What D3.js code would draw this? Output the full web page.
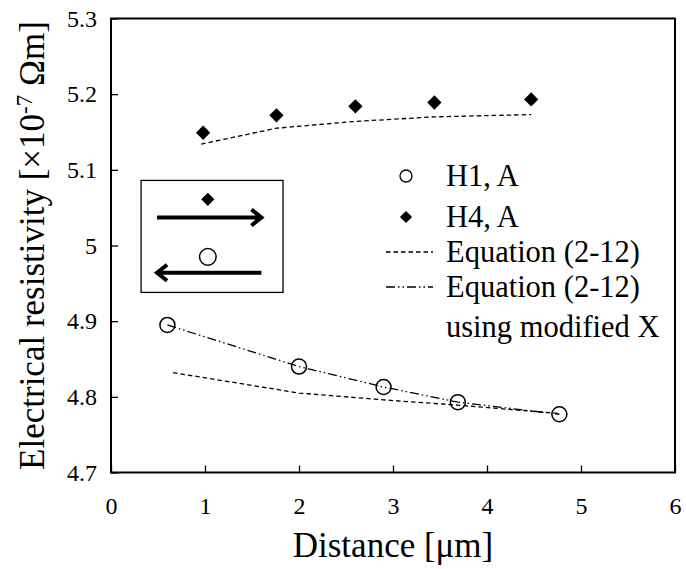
<!DOCTYPE html>
<html><head><meta charset="utf-8">
<script src="https://cdn.jsdelivr.net/npm/d3@7"></script>
<style>body{margin:0;background:#fff} text{font-family:"Liberation Serif","Times New Roman",serif;fill:#000}</style>
</head><body><svg id="c" width="686" height="569"></svg>
<script>
const xTicks=[0,1,2,3,4,5,6];
const yTicks=[4.7,4.8,4.9,5.0,5.1,5.2,5.3];
const h4X=[0.98,1.76,2.60,3.44,4.47];
const h4Y=[5.149,5.172,5.184,5.189,5.193];
const h4EqX=[0.96,1.76,2.60,3.44,4.47];
const h4EqY=[5.134,5.155,5.164,5.170,5.173];
const h1X=[0.60,2.00,2.90,3.69,4.77];
const h1Y=[4.895,4.840,4.813,4.793,4.777];
const h1EqX=[0.66,2.00,2.90,3.69,4.77];
const h1EqY=[4.832,4.805,4.796,4.789,4.778];
const h1ModX=[0.60,2.00,2.90,3.69,4.77];
const h1ModY=[4.895,4.840,4.813,4.793,4.777];
const legendLabels=["H1, A","H4, A","Equation (2-12)","Equation (2-12)","using modified X"];
const xTitle="Distance [\u03bcm]";

const FONT='"Liberation Serif","Times New Roman",serif';
const svg=d3.select("#c");
const L=111,R=675,T=18.5,B=472.5;
const x=d3.scaleLinear().domain([0,6]).range([L,R]);
const y=d3.scaleLinear().domain([4.7,5.3]).range([B,T]);
const DASH="4.5,3", DASHDOT="9,3,1.5,3,1.5,3";

// axes
const gx=svg.append("g").attr("transform",`translate(0,${B})`)
  .call(d3.axisBottom(x).tickValues(xTicks).tickSizeInner(-7).tickSizeOuter(0).tickPadding(24).tickFormat(d3.format("d")));
gx.attr("font-family",FONT);
gx.select(".domain").remove();
gx.selectAll("line").attr("stroke","#000").attr("stroke-width",1.3);
gx.selectAll("text").attr("font-size",24).style("font-family",FONT);
const gy=svg.append("g").attr("transform",`translate(${L},0)`)
  .call(d3.axisLeft(y).tickValues(yTicks).tickSizeInner(-7).tickSizeOuter(0).tickPadding(14).tickFormat(d=>String(+d.toFixed(1))));
gy.attr("font-family",FONT);
gy.select(".domain").remove();
gy.selectAll("line").attr("stroke","#000").attr("stroke-width",1.3);
gy.selectAll("text").attr("font-size",24).style("font-family",FONT);

svg.append("rect").attr("x",L).attr("y",T).attr("width",R-L).attr("height",B-T)
  .attr("fill","none").attr("stroke","#000").attr("stroke-width",2);

// lines
const line=(xs,ys)=>d3.line().x((d,i)=>x(xs[i])).y(d=>y(d))(ys);
svg.append("path").attr("d",line(h4EqX,h4EqY)).attr("fill","none").attr("stroke","#000").attr("stroke-width",1.3).attr("stroke-dasharray",DASH);
svg.append("path").attr("d",line(h1EqX,h1EqY)).attr("fill","none").attr("stroke","#000").attr("stroke-width",1.3).attr("stroke-dasharray",DASH);
svg.append("path").attr("d",line(h1ModX,h1ModY)).attr("fill","none").attr("stroke","#000").attr("stroke-width",1.3).attr("stroke-dasharray",DASHDOT);

// markers
const diamond=d3.symbol().type(d3.symbolDiamond2).size(130);
svg.append("g").selectAll("path").data(h4Y).join("path")
  .attr("d",diamond).attr("transform",(d,i)=>`translate(${x(h4X[i])},${y(d)})`).attr("fill","#000");
svg.append("g").selectAll("circle").data(h1Y).join("circle")
  .attr("cx",(d,i)=>x(h1X[i])).attr("cy",d=>y(d)).attr("r",7.5)
  .attr("fill","none").attr("stroke","#000").attr("stroke-width",1.5);

// inset
const ix0=x(0.32), ix1=x(1.83), iy0=y(5.086), iy1=y(4.938);
svg.append("rect").attr("x",ix0).attr("y",iy0).attr("width",ix1-ix0).attr("height",iy1-iy0)
  .attr("fill","#fff").attr("stroke","#000").attr("stroke-width",1.3);
const cx=x(1.03);
svg.append("path").attr("d",diamond.size(110)()).attr("transform",`translate(${cx},${y(5.061)})`).attr("fill","#000");
svg.append("circle").attr("cx",cx).attr("cy",y(4.985)).attr("r",8.3).attr("fill","none").attr("stroke","#000").attr("stroke-width",1.5);
const a1=y(5.037), a2=y(4.964), ax0=x(0.49), ax1=x(1.6);
svg.append("path").attr("d",`M${ax0},${a1}H${ax1}M${ax1-10},${a1-8}L${ax1},${a1}L${ax1-10},${a1+8}`)
  .attr("fill","none").attr("stroke","#000").attr("stroke-width",4);
svg.append("path").attr("d",`M${ax1},${a2}H${ax0}M${ax0+10},${a2-8}L${ax0},${a2}L${ax0+10},${a2+8}`)
  .attr("fill","none").attr("stroke","#000").attr("stroke-width",4);

// legend
const lg=svg.append("g");
const lx=386, lsx=406, ltx=446;
const rows=[176,217,252,287,327];
lg.append("circle").attr("cx",lsx).attr("cy",rows[0]).attr("r",6).attr("fill","none").attr("stroke","#000").attr("stroke-width",1.3);
lg.append("path").attr("d",d3.symbol().type(d3.symbolDiamond2).size(95)()).attr("transform",`translate(${lsx},${rows[1]})`);
lg.append("line").attr("x1",lx).attr("x2",433).attr("y1",rows[2]).attr("y2",rows[2]).attr("stroke","#000").attr("stroke-width",1.3).attr("stroke-dasharray",DASH);
lg.append("line").attr("x1",lx).attr("x2",433).attr("y1",rows[3]).attr("y2",rows[3]).attr("stroke","#000").attr("stroke-width",1.3).attr("stroke-dasharray",DASHDOT);
legendLabels.forEach((t,i)=>{
  lg.append("text").attr("x",ltx).attr("y",rows[i]).attr("dy","0.33em").attr("font-size",30.5).text(t);
});

// titles
svg.append("text").attr("x",(L+R)/2).attr("y",557).attr("text-anchor","middle").attr("font-size",35).text(xTitle);
const yt=svg.append("text").attr("transform",`translate(44,${(T+B)/2}) rotate(-90)`).attr("text-anchor","middle").attr("font-size",35);
yt.append("tspan").text("Electrical resistivity  [\u00d710");
yt.append("tspan").attr("dy",-12).attr("font-size",23).text("-7");
yt.append("tspan").attr("dy",12).text(" \u03a9m]");
</script></body></html>
